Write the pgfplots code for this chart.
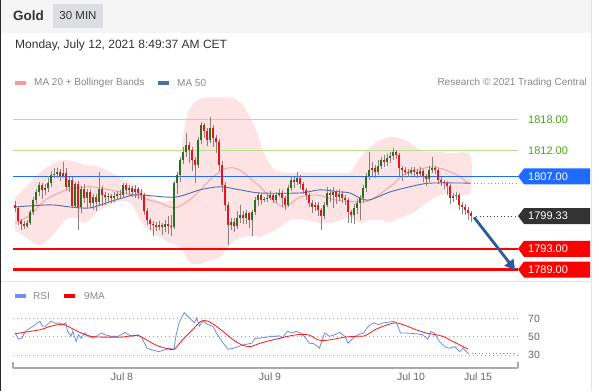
\documentclass[border=0pt]{standalone}
\usepackage{pgfplots}
\pgfplotsset{compat=1.18}
\usepackage{pgfplotstable}
\usetikzlibrary{arrows.meta}
\usepackage{fontspec}
\setmainfont{Liberation Sans}
\definecolor{headbg}{HTML}{F5F5F5}
\definecolor{tabbg}{HTML}{DDDEE2}
\definecolor{txtdark}{HTML}{333333}
\definecolor{txtgray}{HTML}{888888}
\definecolor{labgray}{HTML}{666666}
\definecolor{sepgray}{HTML}{E3E3E3}
\definecolor{bandfill}{HTML}{FDE3E3}
\definecolor{ma20}{HTML}{F59A9A}
\definecolor{ma50}{HTML}{4A6FA8}
\definecolor{lvlgreen}{HTML}{B7DF92}
\definecolor{txtgreen}{HTML}{4EA51D}
\definecolor{lvlblue}{HTML}{1F6BFF}
\definecolor{lvlred}{HTML}{FF0000}
\definecolor{tagdark}{HTML}{333333}
\definecolor{upc}{HTML}{2E6E22}
\definecolor{dnc}{HTML}{E3161C}
\definecolor{wick}{HTML}{8A7F7F}
\definecolor{rsiblue}{HTML}{6B8FE8}
\definecolor{arrowblue}{HTML}{2C5D9B}
\definecolor{axgray}{HTML}{AAAAAA}
\newcommand{\tagfont}{\fontsize{11bp}{13bp}\selectfont}
\pgfplotstableread{
x o h l c
15 1801.5 1802.2 1800.2 1800.9
18 1800.9 1801.2 1797.6 1798.4
21 1798.4 1798.8 1796.6 1797.8
24 1797.8 1798.4 1796.8 1797.4
27 1797.4 1798.6 1797.0 1798.0
30 1798.0 1800.6 1797.6 1800.1
33 1800.1 1803.0 1799.6 1802.4
36 1802.4 1804.6 1801.6 1804.0
39 1804.0 1806.0 1803.2 1805.3
42 1805.3 1805.8 1802.6 1804.4
45 1804.4 1805.6 1803.4 1804.8
48 1804.8 1806.6 1804.0 1805.7
51 1805.7 1808.0 1805.0 1807.3
54 1807.3 1808.6 1806.6 1807.5
57 1807.5 1808.6 1806.6 1807.9
60 1807.9 1808.4 1806.2 1807.1
63 1807.1 1809.8 1806.6 1807.7
66 1807.7 1808.6 1804.4 1804.9
69 1804.9 1806.8 1804.0 1806.3
72 1806.3 1806.9 1800.8 1801.3
75 1801.3 1806.0 1800.8 1805.5
78 1805.5 1806.2 1796.6 1801.1
81 1801.1 1805.2 1800.0 1804.6
84 1804.6 1805.6 1801.8 1802.8
87 1802.8 1804.5 1800.8 1803.9
90 1803.9 1804.6 1800.8 1801.9
93 1801.9 1803.6 1800.6 1803.0
96 1803.0 1803.6 1800.4 1802.0
99 1802.0 1807.8 1801.4 1804.6
102 1804.6 1805.2 1801.2 1803.4
105 1803.4 1804.0 1801.4 1803.0
108 1803.0 1803.8 1801.8 1803.2
111 1803.2 1803.6 1801.8 1802.8
114 1802.8 1804.0 1802.0 1803.2
117 1803.2 1804.2 1802.4 1803.6
120 1803.6 1804.4 1802.8 1803.4
123 1803.4 1805.8 1802.8 1805.3
126 1805.3 1805.8 1803.6 1804.4
129 1804.4 1805.4 1803.2 1804.8
132 1804.8 1805.2 1803.0 1804.0
135 1804.0 1805.4 1802.8 1804.6
138 1804.6 1805.0 1802.6 1803.8
141 1803.8 1804.6 1802.4 1803.4
144 1803.4 1803.8 1799.6 1800.3
147 1800.3 1800.8 1797.6 1798.6
150 1798.6 1799.0 1796.6 1797.8
153 1797.8 1798.4 1795.4 1797.6
156 1797.6 1798.2 1796.4 1797.2
159 1797.2 1798.4 1796.6 1797.6
162 1797.6 1798.0 1795.6 1797.2
165 1797.2 1798.6 1796.2 1797.8
168 1797.8 1799.4 1795.8 1797.4
171 1797.4 1799.6 1795.4 1797.2
174 1797.2 1806.2 1796.8 1805.7
177 1805.7 1807.8 1803.6 1807.3
180 1807.3 1810.8 1806.0 1810.2
183 1810.2 1812.6 1809.4 1811.7
186 1811.7 1815.4 1810.8 1813.1
189 1813.1 1813.6 1809.6 1812.1
192 1812.1 1812.6 1808.0 1810.2
195 1810.2 1810.8 1805.7 1809.2
198 1809.2 1814.6 1808.6 1814.0
201 1814.0 1817.6 1813.2 1816.9
204 1816.9 1817.4 1814.4 1815.8
207 1815.8 1816.4 1812.8 1814.0
210 1814.0 1818.5 1813.4 1816.4
213 1816.4 1817.0 1812.6 1814.4
216 1814.4 1815.0 1811.6 1813.7
219 1813.7 1814.2 1808.0 1809.2
222 1809.2 1810.0 1804.0 1805.3
225 1805.3 1806.0 1800.4 1801.5
228 1801.5 1802.0 1793.8 1797.6
231 1797.6 1799.0 1796.6 1798.2
234 1798.2 1799.0 1796.2 1797.4
237 1797.4 1800.4 1796.8 1798.9
240 1798.9 1801.4 1798.0 1799.6
243 1799.6 1800.4 1797.8 1798.9
246 1798.9 1800.6 1797.8 1799.9
249 1799.9 1800.2 1797.0 1798.6
252 1798.6 1800.6 1795.4 1800.1
255 1800.1 1803.0 1799.6 1802.4
258 1802.4 1804.0 1801.2 1803.4
261 1803.4 1803.8 1801.6 1802.4
264 1802.4 1803.0 1802.0 1802.6
267 1802.6 1803.6 1802.0 1802.8
270 1802.8 1804.2 1802.4 1803.4
273 1803.4 1803.8 1801.8 1802.4
276 1802.4 1804.0 1801.8 1803.4
279 1803.4 1804.6 1803.0 1803.8
282 1803.8 1804.4 1801.0 1802.8
285 1802.8 1803.2 1800.6 1801.5
288 1801.5 1805.4 1801.0 1804.8
291 1804.8 1807.0 1804.2 1806.3
294 1806.3 1806.8 1804.8 1805.9
297 1805.9 1807.9 1805.4 1806.7
300 1806.7 1807.2 1804.6 1805.5
303 1805.5 1806.0 1803.6 1804.4
306 1804.4 1804.8 1802.4 1803.4
309 1803.4 1803.8 1801.0 1801.9
312 1801.9 1802.4 1800.0 1801.1
315 1801.1 1802.0 1800.4 1801.5
318 1801.5 1802.0 1799.4 1800.5
321 1800.5 1800.8 1796.6 1799.4
324 1799.4 1802.0 1798.8 1801.5
327 1801.5 1805.0 1801.0 1803.8
330 1803.8 1804.6 1802.0 1803.4
333 1803.4 1805.0 1800.8 1804.0
336 1804.0 1804.4 1801.6 1803.0
339 1803.0 1804.6 1802.2 1803.6
342 1803.6 1804.2 1801.8 1802.8
345 1802.8 1803.4 1801.4 1802.4
348 1802.4 1802.8 1798.0 1800.1
351 1800.1 1800.6 1798.0 1799.6
354 1799.6 1801.6 1797.8 1800.9
357 1800.9 1802.6 1799.8 1801.9
360 1801.9 1803.4 1798.6 1802.8
363 1802.8 1805.4 1801.8 1804.8
366 1804.8 1807.6 1804.0 1807.1
369 1807.1 1811.7 1806.4 1808.2
372 1808.2 1809.8 1807.0 1808.6
375 1808.6 1809.2 1806.6 1807.9
378 1807.9 1810.2 1807.2 1809.0
381 1809.0 1810.8 1808.4 1810.2
384 1810.2 1811.2 1808.8 1809.8
387 1809.8 1811.4 1809.0 1810.6
390 1810.6 1811.8 1809.6 1810.9
393 1810.9 1812.4 1810.2 1811.7
396 1811.7 1812.2 1810.4 1811.1
399 1811.1 1811.6 1807.0 1808.6
402 1808.6 1809.0 1806.2 1808.2
405 1808.2 1808.8 1807.2 1807.9
408 1807.9 1808.4 1806.8 1807.7
411 1807.7 1808.8 1807.2 1808.2
414 1808.2 1808.8 1807.0 1807.9
417 1807.9 1808.4 1806.6 1807.5
420 1807.5 1808.8 1806.8 1808.0
423 1808.0 1808.4 1806.0 1807.1
426 1807.1 1807.4 1805.2 1806.5
429 1806.5 1809.0 1806.0 1808.2
432 1808.2 1810.7 1807.6 1808.6
435 1808.6 1809.0 1807.4 1808.2
438 1808.2 1808.6 1805.6 1806.3
441 1806.3 1806.8 1805.2 1805.9
444 1805.9 1806.4 1804.6 1805.7
447 1805.7 1806.2 1803.4 1805.2
450 1805.2 1805.6 1801.6 1802.8
453 1802.8 1803.8 1802.0 1803.2
456 1803.2 1804.0 1802.4 1803.4
459 1803.4 1803.8 1800.6 1801.5
462 1801.5 1802.0 1799.8 1801.1
465 1801.1 1801.6 1799.6 1800.5
468 1800.5 1801.0 1798.6 1799.9
471 1799.9 1800.4 1798.2 1799.33
}\candles
\begin{document}
\begin{tikzpicture}[x=1bp,y=-1bp]
\useasboundingbox (0,0) rectangle (599,391);
\fill[white] (0,0) rectangle (599,391);
\fill[headbg] (0,0) rectangle (591,33);
\fill[tabbg] (53,4) rectangle (103,27.5);
\node[anchor=west, inner sep=0, text=txtdark, font=\bfseries\fontsize{13.5bp}{15bp}\selectfont] at (13,15.5) {Gold};
\node[inner sep=0, text=txtdark, font=\fontsize{11.5bp}{13bp}\selectfont] at (78,15.8) {30 MIN};
\node[anchor=west, inner sep=0, text=txtdark, font=\fontsize{12bp}{14bp}\selectfont] at (15,45) {Monday, July 12, 2021 8:49:37 AM CET};
\fill[ma20] (15,81) rectangle (26,85);
\node[anchor=west, inner sep=0, text=txtgray, font=\fontsize{10bp}{12bp}\selectfont] at (34,83) {MA 20 + Bollinger Bands};
\fill[ma50] (158,81) rectangle (169,85);
\node[anchor=west, inner sep=0, text=txtgray, font=\fontsize{10bp}{12bp}\selectfont] at (177,83) {MA 50};
\node[anchor=east, inner sep=0, text=txtgray, font=\fontsize{10bp}{12bp}\selectfont] at (587,83) {Research © 2021 Trading Central};
\draw[sepgray, line width=1bp] (1,281) -- (591,281);
\draw[sepgray, line width=1bp] (591.5,0) -- (591.5,391);
\draw[black!85, line width=1.3bp] (0.65,0) -- (0.65,391);
\fill[rsiblue] (15,294) rectangle (26,298);
\node[anchor=west, inner sep=0, text=txtgray, font=\fontsize{10bp}{12bp}\selectfont] at (33,296) {RSI};
\fill[lvlred] (64,294) rectangle (75,298);
\node[anchor=west, inner sep=0, text=txtgray, font=\fontsize{10bp}{12bp}\selectfont] at (84,296) {9MA};

\begin{axis}[at={(13bp,-95bp)}, anchor=north west, scale only axis,
  width=505bp, height=185bp, xmin=13, xmax=518, ymin=1786.97, ymax=1822.74,
  hide axis, clip mode=individual]
% Bollinger band (upper then lower reversed)
\addplot[fill=bandfill, draw=none, smooth, tension=0.5] coordinates {
(15,1803.0) (25,1804.8) (40,1807.8) (55,1809.6) (65,1810.2) (75,1809.8) (85,1809.2) (100,1808.8)
(115,1807.3) (130,1805.9) (145,1803.8) (160,1802.1) (170,1802.4) (175,1804.4) (180,1810.2)
(185,1816.9) (190,1820.2) (200,1822.0) (215,1822.3) (235,1822.0) (245,1820.2) (255,1816.4)
(265,1811.1) (275,1808.2) (290,1807.7) (305,1807.8) (320,1807.7) (335,1807.7) (350,1807.8)
(360,1810.6) (370,1812.7) (380,1814.0) (390,1814.6) (400,1814.4) (410,1813.5) (420,1812.1)
(430,1811.7) (440,1811.7) (450,1811.5) (470,1811.1)
(470,1803.8) (450,1803.8) (440,1803.4) (430,1802.4) (420,1800.9) (410,1799.7) (400,1799.0)
(390,1798.2) (380,1798.6) (370,1798.6) (360,1798.0) (350,1799.1) (335,1798.2) (320,1798.0)
(305,1798.6) (290,1798.6) (280,1797.2) (270,1796.1) (260,1795.3) (250,1795.5) (235,1794.7)
(220,1791.4) (210,1790.8) (200,1790.1) (190,1790.3) (180,1793.4) (170,1794.1) (160,1795.3)
(145,1797.2) (130,1801.9) (115,1801.9) (100,1800.5) (85,1798.0) (75,1799.0) (65,1798.6)
(55,1796.1) (40,1793.7) (25,1795.3) (15,1796.6)};
% MA 20
\addplot[ma20, line width=0.8bp, smooth] coordinates {
(15,1798.0) (30,1799.5) (45,1802.4) (67,1804.4) (90,1805.0) (110,1804.4) (133,1803.4) (150,1802.4)
(160,1801.9) (175,1800.9) (193,1803.0) (213,1806.9) (227,1808.6) (240,1808.2) (260,1805.0)
(273,1802.4) (285,1801.1) (300,1803.0) (317,1803.4) (337,1802.4) (357,1802.1) (370,1802.4)
(390,1805.0) (407,1807.7) (430,1808.8) (440,1808.6) (457,1807.3) (468,1805.7)};
% MA 50
\addplot[ma50, line width=0.9bp, smooth] coordinates {
(15,1801.1) (50,1801.5) (70,1801.1) (90,1800.9) (110,1802.1) (133,1803.4) (143,1803.4) (175,1803.0)
(200,1804.4) (220,1805.0) (240,1804.4) (260,1803.8) (300,1803.8) (320,1804.4) (340,1804.0)
(350,1803.8) (367,1802.4) (390,1804.0) (410,1805.0) (430,1805.7) (470,1805.7)};
% key levels
\addplot[lvlgreen, line width=1bp] coordinates {(13,1818) (518,1818)};
\addplot[lvlgreen, line width=1bp] coordinates {(13,1812) (518,1812)};
\addplot[lvlblue, line width=1.3bp] coordinates {(13,1807) (518,1807)};
\addplot[lvlred, line width=2.3bp] coordinates {(13,1793) (518,1793)};
\addplot[lvlred, line width=2.3bp] coordinates {(13,1789) (518,1789)};
% candles: wicks
\addplot[wick, line width=0.8bp, quiver={u=0, v=\thisrow{h}-\thisrow{l}}] table[x=x, y=l] {\candles};
% candles: bodies
\addplot[upc, line width=2.4bp, quiver={u=0, v=\thisrow{c}-\thisrow{o}},
  restrict expr to domain={\thisrow{c}-\thisrow{o}}{0:100}] table[x=x, y=o] {\candles};
\addplot[dnc, line width=2.4bp, quiver={u=0, v=\thisrow{c}-\thisrow{o}},
  restrict expr to domain={\thisrow{c}-\thisrow{o}}{-100:-0.001}] table[x=x, y=o] {\candles};
% dotted extensions
\addplot[ma50!70, line width=0.9bp, dash pattern=on 1bp off 2.5bp] coordinates {(470,1805.7) (516,1805.7)};
\addplot[black!75, line width=0.9bp, dash pattern=on 1bp off 2.5bp] coordinates {(476,1799.33) (516,1799.33)};
\coordinate (L1818) at (axis cs:518,1818);
\coordinate (L1812) at (axis cs:518,1812);
\coordinate (T1807) at (axis cs:518,1807);
\coordinate (T1799) at (axis cs:518,1799.33);
\coordinate (T1793) at (axis cs:518,1793);
\coordinate (T1789) at (axis cs:518,1789);
\coordinate (A0) at (axis cs:474,1799.1);
\coordinate (A1) at (axis cs:515,1788.9);
\end{axis}

\draw[arrowblue, line width=2.8bp, -{Triangle[length=10bp,width=11bp]}] (A0) -- (A1);
\node[anchor=west, inner sep=0, text=txtgreen, font=\tagfont] at ([xshift=10bp]L1818) {1818.00};
\node[anchor=west, inner sep=0, text=txtgreen, font=\tagfont] at ([xshift=10bp]L1812) {1812.00};
\fill[lvlblue] (T1807) -- ++(6,-8) -- ++(66,0) -- ++(0,16) -- ++(-66,0) -- cycle;
\node[anchor=west, inner sep=0, text=white, font=\tagfont] at ([xshift=10bp]T1807) {1807.00};
\fill[tagdark] (T1799) -- ++(6,-8) -- ++(66,0) -- ++(0,16) -- ++(-66,0) -- cycle;
\node[anchor=west, inner sep=0, text=white, font=\tagfont] at ([xshift=10bp]T1799) {1799.33};
\fill[lvlred] (T1793) -- ++(6,-8) -- ++(66,0) -- ++(0,16) -- ++(-66,0) -- cycle;
\node[anchor=west, inner sep=0, text=white, font=\tagfont] at ([xshift=10bp]T1793) {1793.00};
\fill[lvlred] (T1789) -- ++(6,-8) -- ++(66,0) -- ++(0,16) -- ++(-66,0) -- cycle;
\node[anchor=west, inner sep=0, text=white, font=\tagfont] at ([xshift=10bp]T1789) {1789.00};

\begin{axis}[at={(13bp,-308bp)}, anchor=north west, scale only axis,
  width=505bp, height=60bp, xmin=13, xmax=518, ymin=15.8, ymax=81.4,
  axis y line=none, axis x line*=bottom,
  x axis line style={draw=axgray, line width=1.3bp, -},
  xtick={122,270,411,478}, xticklabels={Jul 8,Jul 9,Jul 10,Jul 15},
  major tick length=0pt,
  xticklabel style={font=\fontsize{10.5bp}{12bp}\selectfont, text=labgray, yshift=-1bp},
  clip mode=individual]
\addplot[black!35, line width=0.8bp, dash pattern=on 1bp off 3bp] coordinates {(13,70) (518,70)};
\addplot[black!35, line width=0.8bp, dash pattern=on 1bp off 3bp] coordinates {(13,50) (518,50)};
\addplot[black!35, line width=0.8bp, dash pattern=on 1bp off 3bp] coordinates {(13,30) (518,30)};
% RSI
\addplot[rsiblue, line width=0.8bp] coordinates {
(15.2,54.1) (18.6,47.4) (22.0,48.5) (25.4,55.9) (30.4,59.6) (35.5,63.3) (39.9,67.0) (42.3,61.5)
(45.6,61.5) (50.7,67.0) (55.8,64.4) (59.2,65.2) (62.5,63.3) (65.9,65.2) (67.6,55.9) (71.0,50.4)
(72.7,55.9) (76.1,44.8) (78.4,52.2) (81.1,48.5) (84.5,54.1) (87.9,50.4) (93.0,48.5) (96.3,50.4)
(101.4,54.1) (104.8,52.2) (111.5,50.4) (118.3,50.4) (125.1,54.8) (128.4,52.2) (131.8,50.4)
(135.2,51.1) (138.6,52.2) (142.0,48.5) (147.0,37.4) (152.1,35.5) (158.9,33.7) (163.9,35.5)
(169.0,37.4) (174.1,36.3) (175.8,50.4) (179.1,65.2) (184.2,76.3) (187.6,72.6) (191.0,68.9)
(194.4,65.2) (196.7,70.7) (199.4,61.5) (202.8,67.0) (207.9,63.3) (212.9,61.5) (216.3,54.1)
(223.1,43.0) (228.2,36.3) (233.2,37.4) (238.3,39.2) (243.4,41.1) (248.4,42.2) (251.8,43.0)
(255.2,48.5) (260.3,48.5) (267.0,49.6) (270.4,50.4) (275.5,50.4) (278.9,51.1) (282.2,48.5)
(287.3,55.9) (292.4,54.1) (295.8,55.9) (300.8,54.1) (304.2,50.4) (309.3,43.0) (314.3,42.2)
(319.4,37.4) (324.5,54.1) (329.6,50.4) (334.6,52.2) (339.7,54.8) (344.8,50.4) (348.1,43.0)
(353.2,48.5) (358.3,52.2) (363.4,54.1) (368.4,61.5) (373.5,65.2) (378.6,63.3) (383.6,65.2)
(388.7,65.9) (393.8,67.0) (397.2,63.3) (400.5,54.1) (405.6,54.1) (415.7,53.3) (422.5,52.2)
(427.6,47.4) (431.0,55.9) (434.3,54.1) (439.4,44.8) (444.5,39.2) (449.5,37.4) (454.6,39.2)
(459.7,33.7) (463.1,37.4) (468.1,31.8)};
\addplot[rsiblue, line width=0.9bp, dash pattern=on 1bp off 2.5bp] coordinates {(468.1,31.2) (517,31.2)};
% 9MA
\addplot[lvlred!90, line width=0.8bp, smooth] coordinates {
(15.2,53.3) (23.7,54.8) (30.4,55.9) (40.6,57.8) (50.7,61.5) (59.2,63.3) (64.2,63.3) (71.0,59.6)
(81.1,54.1) (91.3,50.4) (101.4,49.6) (111.5,49.6) (121.7,49.6) (131.8,51.1) (138.6,51.1)
(145.3,47.4) (155.5,41.1) (165.6,37.4) (174.1,36.3) (182.5,46.7) (192.7,57.8) (201.1,67.0)
(207.9,67.0) (216.3,61.5) (224.8,54.1) (233.2,46.7) (241.7,41.1) (250.1,39.2) (260.3,43.0)
(270.4,45.9) (280.5,48.5) (290.7,51.1) (300.8,52.6) (309.3,51.8) (317.7,46.7) (324.5,45.9)
(334.6,47.4) (344.8,49.6) (354.9,50.4) (365.0,51.1) (375.2,57.8) (385.3,62.2) (395.5,65.2)
(405.6,62.2) (415.7,57.8) (425.9,54.1) (436.0,52.2) (442.8,50.4) (452.9,44.8) (463.1,39.2)
(468.1,36.3)};
\coordinate (R70) at (axis cs:518,70);
\coordinate (R50) at (axis cs:518,50);
\coordinate (R30) at (axis cs:518,30);
\coordinate (B0) at (axis cs:13,15.8);
\coordinate (B1) at (axis cs:518,15.8);
\end{axis}
\draw[axgray, line width=1.3bp] (B0) -- ++(0,-6);
\draw[axgray, line width=1.3bp] (B1) -- ++(0,-6);
\node[anchor=west, inner sep=0, text=labgray, font=\fontsize{10.5bp}{12bp}\selectfont] at ([xshift=10bp]R70) {70};
\node[anchor=west, inner sep=0, text=labgray, font=\fontsize{10.5bp}{12bp}\selectfont] at ([xshift=10bp]R50) {50};
\node[anchor=west, inner sep=0, text=labgray, font=\fontsize{10.5bp}{12bp}\selectfont] at ([xshift=10bp]R30) {30};
\end{tikzpicture}
\end{document}
